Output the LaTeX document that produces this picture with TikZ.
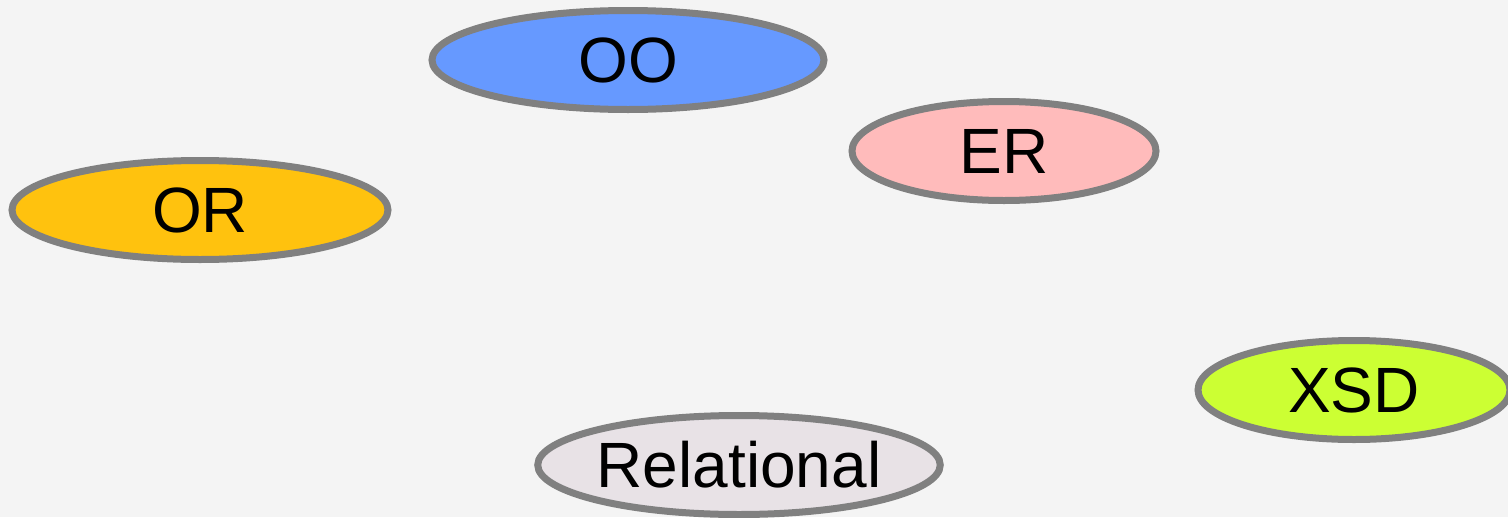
\documentclass[tikz,border=0pt]{standalone}
\usepackage{fontspec}
\setmainfont{Liberation Sans}
\usetikzlibrary{shapes.geometric}
\definecolor{bg}{HTML}{F4F4F4}
\definecolor{rim}{HTML}{808080}
\definecolor{ooc}{HTML}{6699FF}
\definecolor{orc}{HTML}{FFC20E}
\definecolor{erc}{HTML}{FFBBBB}
\definecolor{xsdc}{HTML}{CCFF33}
\definecolor{relc}{HTML}{E8E2E6}
\tikzset{
  model/.style={ellipse, draw=rim, line width=7pt, inner sep=0pt, outer sep=0pt,
    font=\fontsize{64}{72}\selectfont, text=black}
}
\begin{document}
\begin{tikzpicture}[x=1pt,y=-1pt]
\fill[bg] (0,0) rectangle (1508,517);
\useasboundingbox (0,0) rectangle (1508,517);
\node[model, fill=ooc, minimum width=392pt, minimum height=99pt] (oo) at (628,60) {OO};
\node[model, fill=erc, minimum width=304pt, minimum height=99pt] (er) at (1004,151) {ER};
\node[model, fill=orc, minimum width=376pt, minimum height=99pt] (or) at (200,210) {OR};
\node[model, fill=xsdc, minimum width=312pt, minimum height=99pt] (xsd) at (1354,390) {XSD};
\node[model, fill=relc, minimum width=402pt, minimum height=99pt] (rel) at (739,465) {Relational};
\end{tikzpicture}
\end{document}
